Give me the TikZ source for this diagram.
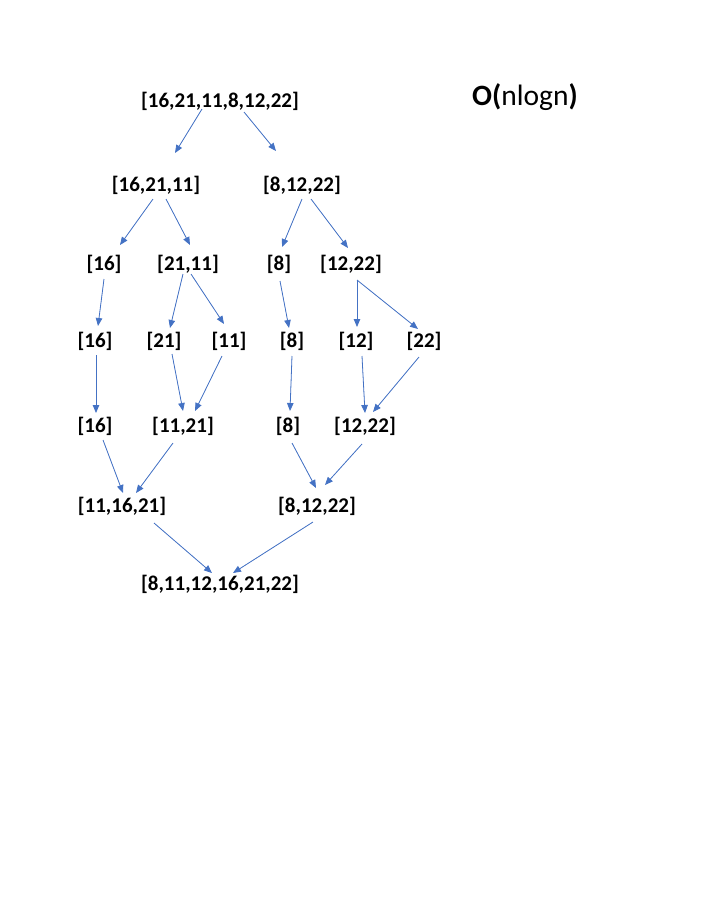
\documentclass[tikz,border=0pt]{standalone}
\usepackage{fontspec}
\setmainfont{Carlito}
\usetikzlibrary{arrows.meta}
\definecolor{arrowblue}{RGB}{68,114,196}

\begin{document}
\begin{tikzpicture}[x=1pt,y=-1pt,
  every node/.style={font=\bfseries\fontsize{21}{24}\selectfont,inner sep=0pt,text height=1em,text depth=0em},
  arr/.style={-{Triangle[length=8pt,width=6.5pt]},draw=arrowblue,fill=arrowblue,line width=0.8pt}]
\useasboundingbox (0,0) rectangle (720,898);
% split
\node (all) at (220,102) {[16,21,11,8,12,22]};
\node[font=\fontsize{29.5}{30}\selectfont] (cost) at (525,100) {{\bfseries O(}nlogn{\bfseries )}};
\node (l) at (156,186) {[16,21,11]};
\node (r) at (302,186) {[8,12,22]};
\node (l1) at (104,265) {[16]}; \node (l2) at (188,265) {[21,11]};
\node (r1) at (279,265) {[8]}; \node (r2) at (351,265) {[12,22]};
\node (a) at (95,342) {[16]}; \node (b) at (164,342) {[21]}; \node (c) at (229,342) {[11]};
\node (d) at (292,342) {[8]}; \node (e) at (356,342) {[12]}; \node (f) at (424,342) {[22]};
% merge
\node (g) at (95,427) {[16]}; \node (h) at (183,427) {[11,21]};
\node (i) at (288,427) {[8]}; \node (j) at (365,427) {[12,22]};
\node (k) at (122,507) {[11,16,21]}; \node (m) at (317,507) {[8,12,22]};
\node (sorted) at (220,585) {[8,11,12,16,21,22]};
% arrows
\draw[arr] ([shift={(-18,7)}]all.center)--([shift={(19,-33)}]l.center); \draw[arr] ([shift={(24,10)}]all.center)--([shift={(-26,-35)}]r.center);
\draw[arr] ([shift={(-3,13)}]l.center)--([shift={(16,-20)}]l1.center); \draw[arr] ([shift={(10,13)}]l.center)--([shift={(2,-20)}]l2.center);
\draw[arr] ([shift={(0,13)}]r.center)--([shift={(3,-18)}]r1.center); \draw[arr] ([shift={(9,13)}]r.center)--([shift={(-3,-17)}]r2.center);
\draw[arr] ([shift={(0,14)}]l1.center)--([shift={(3,-16)}]a.center);
\draw[arr] ([shift={(-5,9)}]l2.center)--([shift={(6,-14)}]b.center); \draw[arr] ([shift={(3,9)}]l2.center)--([shift={(-5,-18)}]c.center);
\draw[arr] ([shift={(1,16)}]r1.center)--([shift={(-3,-14)}]d.center);
\draw[arr] ([shift={(6,15)}]r2.center)--([shift={(1,-15)}]e.center); \draw[arr] ([shift={(6,15)}]r2.center)--([shift={(-6,-13)}]f.center);
\draw[arr] ([shift={(1,13)}]a.center)--([shift={(1,-14)}]g.center);
\draw[arr] ([shift={(8,12)}]b.center)--([shift={(0,-16)}]h.center); \draw[arr] ([shift={(-7,14)}]c.center)--([shift={(12,-16)}]h.center);
\draw[arr] ([shift={(0,14)}]d.center)--([shift={(2,-16)}]i.center);
\draw[arr] ([shift={(6,14)}]e.center)--([shift={(0,-14)}]j.center); \draw[arr] ([shift={(-5,15)}]f.center)--([shift={(8,-15)}]j.center);
\draw[arr] ([shift={(8,13)}]g.center)--([shift={(1,-14)}]k.center); \draw[arr] ([shift={(-10,16)}]h.center)--([shift={(14,-14)}]k.center);
\draw[arr] ([shift={(4,16)}]i.center)--([shift={(-1,-19)}]m.center); \draw[arr] ([shift={(-3,17)}]j.center)--([shift={(8,-22)}]m.center);
\draw[arr] ([shift={(32,16)}]k.center)--([shift={(-8,-12)}]sorted.center); \draw[arr] ([shift={(-4,15)}]m.center)--([shift={(13,-12)}]sorted.center);
\end{tikzpicture}
\end{document}
